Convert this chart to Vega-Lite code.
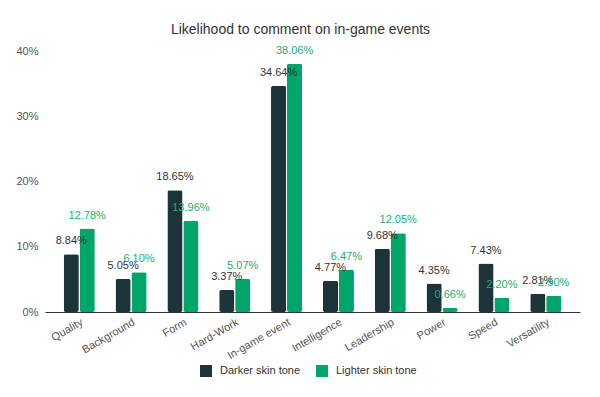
{
  "$schema": "https://vega.github.io/schema/vega-lite/v6.json",
  "width": 535,
  "height": 261,
  "autosize": {"type": "none"},
  "padding": {"left": 45, "top": 51, "right": 20, "bottom": 85},
  "background": "white",
  "config": {
    "view": {"stroke": null},
    "font": "Liberation Sans"
  },
  "title": {
    "text": "Likelihood to comment on in-game events",
    "fontSize": 14,
    "fontWeight": "normal",
    "color": "#333333",
    "font": "Liberation Sans",
    "anchor": "middle",
    "dx": -12,
    "offset": 8
  },
  "data": {
    "values": [
      {"category": "Quality", "group": "Darker skin tone", "value": 0.0884},
      {"category": "Quality", "group": "Lighter skin tone", "value": 0.1278},
      {"category": "Background", "group": "Darker skin tone", "value": 0.0505},
      {"category": "Background", "group": "Lighter skin tone", "value": 0.061},
      {"category": "Form", "group": "Darker skin tone", "value": 0.1865},
      {"category": "Form", "group": "Lighter skin tone", "value": 0.1396},
      {"category": "Hard-Work", "group": "Darker skin tone", "value": 0.0337},
      {"category": "Hard-Work", "group": "Lighter skin tone", "value": 0.0507},
      {"category": "In-game event", "group": "Darker skin tone", "value": 0.3464},
      {"category": "In-game event", "group": "Lighter skin tone", "value": 0.3806},
      {"category": "Intelligence", "group": "Darker skin tone", "value": 0.0477},
      {"category": "Intelligence", "group": "Lighter skin tone", "value": 0.0647},
      {"category": "Leadership", "group": "Darker skin tone", "value": 0.0968},
      {"category": "Leadership", "group": "Lighter skin tone", "value": 0.1205},
      {"category": "Power", "group": "Darker skin tone", "value": 0.0435},
      {"category": "Power", "group": "Lighter skin tone", "value": 0.0066},
      {"category": "Speed", "group": "Darker skin tone", "value": 0.0743},
      {"category": "Speed", "group": "Lighter skin tone", "value": 0.022},
      {"category": "Versatility", "group": "Darker skin tone", "value": 0.0281},
      {"category": "Versatility", "group": "Lighter skin tone", "value": 0.025}
    ]
  },
  "encoding": {
    "x": {
      "field": "category",
      "type": "nominal",
      "sort": null,
      "scale": {"paddingInner": 0.4, "paddingOuter": 0.36},
      "axis": {
        "title": null,
        "labelAngle": -30,
        "labelAlign": "right",
        "labelBaseline": "top",
        "labelFontSize": 11,
        "labelColor": "#555555",
        "labelPadding": 4,
        "ticks": false,
        "domainColor": "#333333",
        "domainWidth": 1
      }
    },
    "xOffset": {
      "field": "group",
      "type": "nominal",
      "scale": {"paddingInner": 0.05}
    },
    "y": {
      "field": "value",
      "type": "quantitative",
      "scale": {"domain": [0, 0.4]},
      "axis": {
        "title": null,
        "format": ".0%",
        "values": [0, 0.1, 0.2, 0.3, 0.4],
        "domain": false,
        "ticks": false,
        "grid": false,
        "labelFontSize": 11,
        "labelColor": "#555555",
        "labelPadding": 7
      }
    }
  },
  "layer": [
    {
      "mark": {"type": "bar", "cornerRadius": 2},
      "encoding": {
        "color": {
          "field": "group",
          "type": "nominal",
          "scale": {"domain": ["Darker skin tone", "Lighter skin tone"], "range": ["#1b3339", "#00a56a"]},
          "legend": {
            "title": null,
            "orient": "none",
            "direction": "horizontal",
            "legendX": 155,
            "legendY": 314,
            "symbolType": "square",
            "symbolSize": 144,
            "symbolStrokeWidth": 0,
            "labelFontSize": 11,
            "labelColor": "#333333",
            "labelOffset": 8,
            "columnPadding": 15
          }
        }
      }
    },
    {
      "mark": {"type": "text", "baseline": "alphabetic", "dy": -10, "fontSize": 11},
      "encoding": {
        "text": {"field": "value", "type": "quantitative", "format": ".2%"},
        "color": {
          "field": "group",
          "type": "nominal",
          "scale": {"domain": ["Darker skin tone", "Lighter skin tone"], "range": ["#333333", "#1aae74"]},
          "legend": null
        }
      }
    }
  ],
  "resolve": {"scale": {"color": "independent"}}
}
